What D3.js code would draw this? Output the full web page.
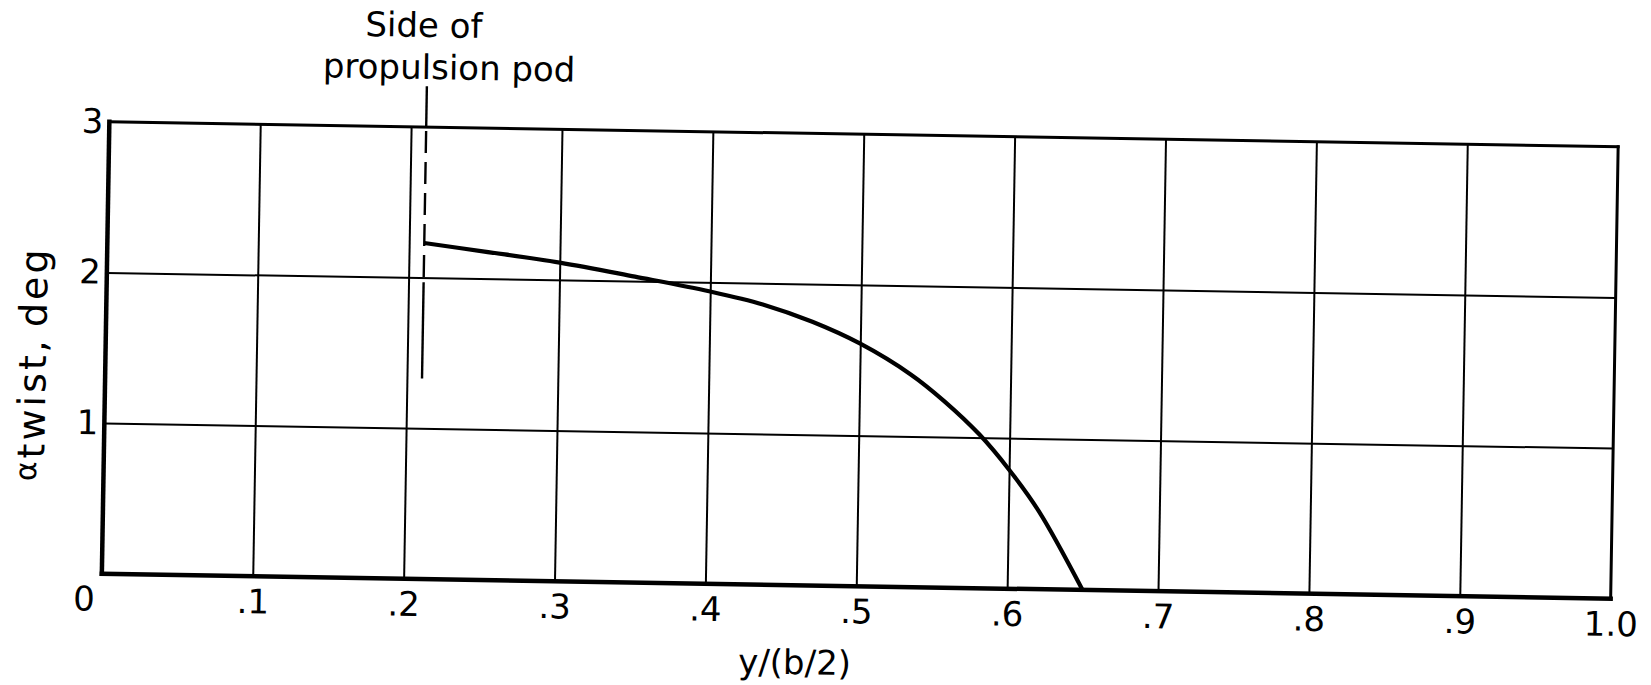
<!DOCTYPE html>
<html>
<head>
<meta charset="utf-8">
<script src="https://cdn.jsdelivr.net/npm/d3@7"></script>
<style>
  html, body { margin: 0; padding: 0; background: #fff; }
  svg { display: block; }
  text { font-family: "DejaVu Sans", "Liberation Sans", sans-serif; fill: #000; }
</style>
</head>
<body>
<svg id="chart" width="1651" height="685"></svg>
<script>
// Spanwise stations, y/(b/2)
const xTicks = [0, 0.1, 0.2, 0.3, 0.4, 0.5, 0.6, 0.7, 0.8, 0.9, 1.0];
const xTickLabels = ["0", ".1", ".2", ".3", ".4", ".5", ".6", ".7", ".8", ".9", "1.0"];
// Twist angle, deg
const yTicks = [1, 2, 3];
const yTickLabels = ["1", "2", "3"];

// Wing twist distribution outboard of the propulsion pod
const station = [0.21, 0.25, 0.30, 0.35, 0.40, 0.435, 0.468, 0.50, 0.534, 0.556, 0.58, 0.60, 0.62, 0.65];
const twist   = [2.23, 2.18, 2.115, 2.03, 1.94, 1.86, 1.75, 1.61, 1.41, 1.24, 1.02, 0.79, 0.52, 0];

// Side of propulsion pod marker
const podStation = 0.21;
const podTop = 3.27;
const podDashFrom = 3.0;
const podDashTo = 1.97;
const podBottom = 1.33;

const W = 1651, H = 685;
const plot = { left: 105.5, top: 134.25, width: 1509, height: 452 };
const tilt = 0.95; // degrees, clockwise
const cx = plot.left + plot.width / 2, cy = plot.top + plot.height / 2;

const svg = d3.select("#chart");
svg.append("rect").attr("width", W).attr("height", H).attr("fill", "#fff");

const g = svg.append("g").attr("transform", `rotate(${tilt},${cx},${cy})`);

const x = d3.scaleLinear().domain([0, 1]).range([plot.left, plot.left + plot.width]);
const y = d3.scaleLinear().domain([0, 3]).range([plot.top + plot.height, plot.top]);

// Grid lines
const vGrid = g.append("g")
  .attr("transform", `translate(0,${y(0)})`)
  .call(d3.axisBottom(x).tickValues(xTicks.slice(1, -1)).tickSize(-plot.height).tickFormat(""));
vGrid.select(".domain").remove();
vGrid.selectAll(".tick line").attr("stroke", "#000").attr("stroke-width", 2);

const hGrid = g.append("g")
  .attr("transform", `translate(${x(0)},0)`)
  .call(d3.axisLeft(y).tickValues(yTicks.slice(0, -1)).tickSize(-plot.width).tickFormat(""));
hGrid.select(".domain").remove();
hGrid.selectAll(".tick line").attr("stroke", "#000").attr("stroke-width", 2);

// Frame
const frame = g.append("g").attr("stroke", "#000").attr("stroke-linecap", "square");
frame.append("line").attr("x1", x(0)).attr("x2", x(1)).attr("y1", y(3)).attr("y2", y(3)).attr("stroke-width", 3);
frame.append("line").attr("x1", x(1)).attr("x2", x(1)).attr("y1", y(3)).attr("y2", y(0)).attr("stroke-width", 3);
frame.append("line").attr("x1", x(0)).attr("x2", x(0)).attr("y1", y(3)).attr("y2", y(0)).attr("stroke-width", 4.5);
frame.append("line").attr("x1", x(0)).attr("x2", x(1)).attr("y1", y(0)).attr("y2", y(0)).attr("stroke-width", 4.5);

// Tick labels
const xAxis = g.append("g")
  .attr("transform", `translate(0,${y(0)})`)
  .call(d3.axisBottom(x).tickValues(xTicks).tickSize(0).tickPadding(13)
    .tickFormat((d, i) => xTickLabels[i]));
xAxis.select(".domain").remove();
xAxis.selectAll("text")
  .attr("font-size", 34)
  .attr("font-family", "DejaVu Sans")
  .attr("dx", (d, i) => i === 0 ? -18 : 0);

const yAxis = g.append("g")
  .attr("transform", `translate(${x(0)},0)`)
  .call(d3.axisLeft(y).tickValues(yTicks).tickSize(0).tickPadding(6)
    .tickFormat((d, i) => yTickLabels[i]));
yAxis.select(".domain").remove();
yAxis.selectAll("text").attr("font-size", 34).attr("font-family", "DejaVu Sans");

// Pod marker
const pod = g.append("g").attr("stroke", "#000").attr("stroke-width", 2.4);
pod.append("line").attr("x1", x(podStation)).attr("x2", x(podStation))
  .attr("y1", y(podTop)).attr("y2", y(podDashFrom));
pod.append("line").attr("x1", x(podStation)).attr("x2", x(podStation))
  .attr("y1", y(podDashFrom) + 4).attr("y2", y(podDashTo))
  .attr("stroke-dasharray", "22 9");
pod.append("line").attr("x1", x(podStation)).attr("x2", x(podStation))
  .attr("y1", y(podDashTo)).attr("y2", y(podBottom));

// Twist curve
const line = d3.line()
  .x((d, i) => x(station[i]))
  .y(d => y(d))
  .curve(d3.curveCatmullRom.alpha(0.5));
g.append("path")
  .datum(twist)
  .attr("d", line)
  .attr("fill", "none")
  .attr("stroke", "#000")
  .attr("stroke-width", 4.2)
  .attr("stroke-linejoin", "round");

// Annotation above the pod marker
const note = g.append("text").attr("font-size", 34).attr("text-anchor", "middle");
note.append("tspan").attr("x", x(podStation) - 4).attr("y", y(3) - 90).text("Side of");
note.append("tspan").attr("x", x(podStation) + 22).attr("y", y(3) - 48).text("propulsion pod");

// Axis titles
g.append("text")
  .attr("x", x(0.46))
  .attr("y", y(0) + 89)
  .attr("text-anchor", "middle")
  .attr("font-size", 34)
  .text("y/(b/2)");

const yTitle = g.append("text")
  .attr("transform", `translate(46,${y(1.385)}) rotate(-90)`)
  .attr("text-anchor", "middle")
  .attr("font-size", 38)
  .attr("letter-spacing", 3);
yTitle.append("tspan").attr("font-size", 30).attr("dy", -8).text("α");
yTitle.append("tspan").attr("dy", 8).text("twist,");
yTitle.append("tspan").attr("dx", 10).text("deg");
</script>
</body>
</html>
